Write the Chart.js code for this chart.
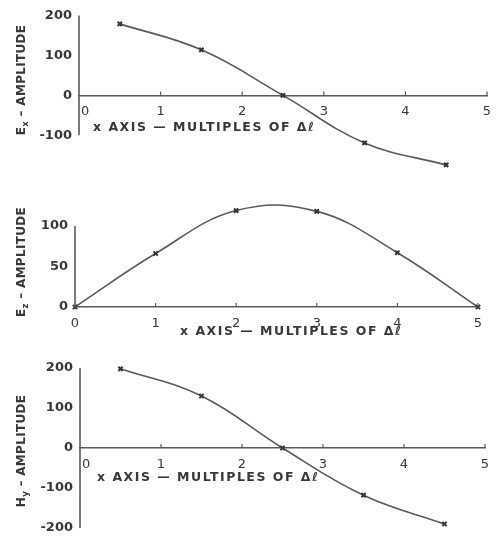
<!DOCTYPE html>
<html><head><meta charset="utf-8">
<script src="https://cdn.jsdelivr.net/npm/chart.js@4/dist/chart.umd.min.js"></script>
<style>
html,body{margin:0;background:#fff;width:496px;height:536px;overflow:hidden}
body{position:relative}
canvas{position:absolute;left:0;top:0;display:block}
</style></head><body>
<canvas id="c1" width="496" height="560"></canvas>
<canvas id="c2" width="496" height="560"></canvas>
<canvas id="c3" width="496" height="560"></canvas>
<script>
// ---- data ----
const xTicks = [0, 1, 2, 3, 4, 5];

const exX = [0.5, 1.5, 2.5, 3.5, 4.5];
const exY = [179, 114, 0, -119, -174];
const exTicks = [-100, 0, 100, 200];

const ezX = [0, 1, 2, 3, 4, 5];
const ezY = [0, 66, 119, 118, 67, 0];
const ezTicks = [0, 50, 100];

const hyX = [0.5, 1.5, 2.5, 3.5, 4.5];
const hyY = [198, 130, 0, -118, -190];
const hyTicks = [-200, -100, 0, 100, 200];

const xTitle = 'x AXIS \u2014 MULTIPLES OF \u0394\u2113';
const yTitles = [['E', 'x'], ['E', 'z'], ['H', 'y']];
const yTitleRest = ' \u2013 AMPLITUDE';

// ---- styling ----
const INK = '#383838';
const LINE = '#5a5a5a';
const FONT = 'DejaVu Sans';

function annot(cfg) {
  return {
    id: 'annot',
    afterDraw(chart) {
      const ctx = chart.ctx;
      const xs = chart.scales.x, ys = chart.scales.y;
      const y0 = ys.getPixelForValue(0);
      const yT = cfg.ticks;
      ctx.save();
      // y axis line spanning the tick range
      ctx.strokeStyle = LINE; ctx.lineWidth = 1.6;
      const ax = xs.getPixelForValue(0);
      ctx.beginPath();
      ctx.moveTo(ax, ys.getPixelForValue(yT[yT.length - 1]));
      ctx.lineTo(ax, ys.getPixelForValue(yT[0]));
      ctx.stroke();
      // upward tick marks on the x axis
      ctx.lineWidth = 1.2;
      xTicks.forEach(v => {
        if (v === 0) return;
        const px = xs.getPixelForValue(v);
        ctx.beginPath(); ctx.moveTo(px, y0); ctx.lineTo(px, y0 - 4); ctx.stroke();
      });
      // x axis title
      ctx.fillStyle = INK;
      ctx.font = 'bold 12.5px "' + FONT + '"';
      ctx.textBaseline = 'middle'; ctx.textAlign = 'left';
      if ('letterSpacing' in ctx) ctx.letterSpacing = '1.5px';
      ctx.fillText(xTitle, cfg.xtX, cfg.xtY);
      if ('letterSpacing' in ctx) ctx.letterSpacing = '0.3px';
      // y axis title (rotated, with subscript)
      ctx.translate(cfg.ytX, cfg.ytY);
      ctx.rotate(-Math.PI / 2);
      const big = 'bold 12px "' + FONT + '"', small = 'bold 8.5px "' + FONT + '"';
      ctx.font = big; const w1 = ctx.measureText(cfg.yt[0]).width;
      ctx.font = small; const w2 = ctx.measureText(cfg.yt[1]).width;
      ctx.font = big; const w3 = ctx.measureText(yTitleRest).width;
      let x = -(w1 + w2 + w3) / 2;
      ctx.textBaseline = 'alphabetic';
      ctx.font = big; ctx.fillText(cfg.yt[0], x, 5); x += w1;
      ctx.font = small; ctx.fillText(cfg.yt[1], x, 8); x += w2;
      ctx.font = big; ctx.fillText(yTitleRest, x, 5);
      ctx.restore();
    }
  };
}

function makeChart(id, xs, ys, yTicks, ymin, ymax, pad, yWidth, zeroShift, cfg) {
  cfg.ticks = yTicks;
  new Chart(document.getElementById(id), {
    type: 'line',
    data: {
      datasets: [{
        data: xs.map((x, i) => ({x: x, y: ys[i]})),
        borderColor: LINE,
        borderWidth: 1.6,
        tension: 0.4,
        pointStyle: 'crossRot',
        pointRadius: 3,
        pointBorderWidth: 2,
        pointBorderColor: '#333',
        pointBackgroundColor: '#333',
        clip: false,
        fill: false
      }]
    },
    options: {
      responsive: false,
      animation: false,
      devicePixelRatio: 1,
      layout: {padding: pad},
      plugins: {legend: {display: false}, tooltip: {enabled: false}},
      scales: {
        x: {
          type: 'linear', min: 0, max: 5,
          position: {y: 0},
          afterFit: s => { s.height = 0; },
          afterBuildTicks: s => { s.ticks = xTicks.map(v => ({value: v})); },
          grid: {display: false},
          border: {display: true, color: LINE, width: 1.6},
          ticks: {
            color: INK, padding: 2,
            font: {family: FONT, size: 13, lineHeight: 1},
            maxRotation: 0, autoSkip: false,
            callback: v => (v === 0 && zeroShift) ? '   0' : String(v)
          }
        },
        y: {
          type: 'linear', min: ymin, max: ymax,
          afterFit: s => { s.width = yWidth; },
          afterBuildTicks: s => { s.ticks = yTicks.map(v => ({value: v})); },
          grid: {display: false, drawTicks: false},
          border: {display: false},
          ticks: {
            color: INK, padding: 7,
            font: {family: FONT, size: 13, weight: 'bold', lineHeight: 1},
            callback: v => String(v)
          }
        }
      }
    },
    plugins: [annot(cfg)]
  });
}

makeChart('c1', exX, exY, exTicks, -185, 205, {top: 12, bottom: 560 - 169.3, right: 9, left: 0}, 79, true,
  {xtX: 93, xtY: 128, ytX: 20, ytY: 80, yt: yTitles[0]});
makeChart('c2', ezX, ezY, ezTicks, 0, 135, {top: 197.6, bottom: 560 - 307, right: 18, left: 0}, 75, false,
  {xtX: 180, xtY: 332, ytX: 20, ytY: 262, yt: yTitles[1]});
makeChart('c3', hyX, hyY, hyTicks, -205, 205, {top: 366, bottom: 560 - 530, right: 11, left: 0}, 80, true,
  {xtX: 97, xtY: 478, ytX: 20, ytY: 451, yt: yTitles[2]});
</script>
</body></html>
